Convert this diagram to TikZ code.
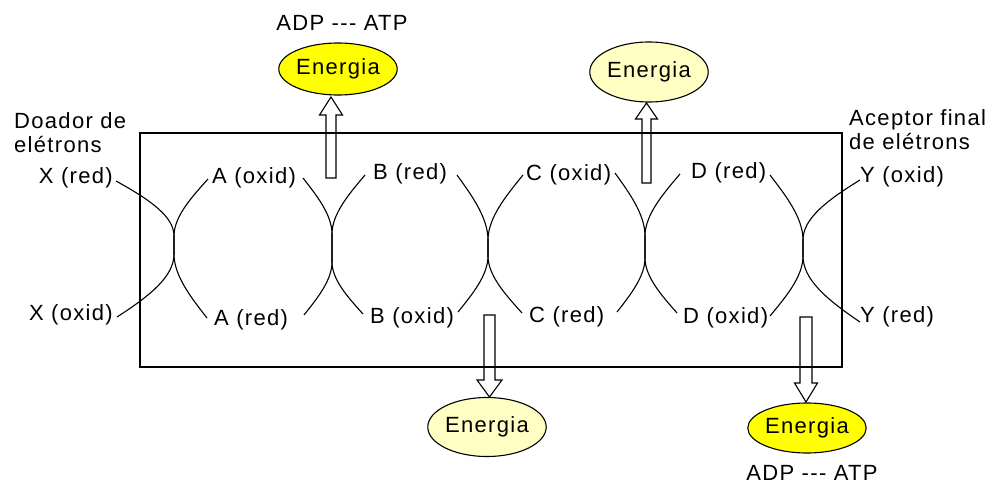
\documentclass[tikz,border=0pt]{standalone}
\usepackage{fontspec}
\newfontfamily\lab{Liberation Sans}[LetterSpace=6]
\usetikzlibrary{shapes.geometric}
\definecolor{ybright}{HTML}{FFFF00}
\definecolor{ypale}{HTML}{FFFFC4}
% one arc touching a crossing:
% #1 centre x, #2 top of vertical part, #3 bottom of vertical part,
% #4,#5 top end, #6,#7 bottom end, #8,#9 first control fractions (x, y)
\newcommand\crossarc[9]{%
  \draw[ln] (#4,#5) .. controls ({#4+#8*(#1-#4)},{#5+#9*(#2-#5)}) and (#1,{#2-0.35*(#2-#5)}) .. (#1,#2)
    -- (#1,#3) .. controls (#1,{#3+0.35*(#7-#3)}) and ({#6+#8*(#1-#6)},{#7-#9*(#7-#3)}) .. (#6,#7);}
% #1 centre x, #2 tail y, #3 head base y, #4 tip y, #5 shaft half width, #6 head half width
\newcommand\hollowarrow[6]{%
  \draw[ln,line join=miter] ({#1-#5},#2) -- ({#1-#5},#3) -- ({#1-#6},#3) -- (#1,#4) -- ({#1+#6},#3)
    -- ({#1+#5},#3) -- ({#1+#5},#2) -- cycle;}
\begin{document}
\begin{tikzpicture}[x=1pt,y=-1pt,
  txt/.style={font=\lab\fontsize{22}{25}\selectfont, inner sep=0pt},
  ln/.style={line width=1.1pt, black},
  en/.style={ellipse, draw, line width=1.1pt, inner sep=0pt, font=\lab\fontsize{22}{25}\selectfont}
]
\useasboundingbox (0,0) rectangle (994,484);

% frame
\draw[ln] (140,133) rectangle (842,367);

% side texts
\node[txt, anchor=west, align=left] (don) at (14,133) {Doador de\\[-1pt]elétrons};
\node[txt, anchor=west, align=left] (ace) at (849,130) {Aceptor final\\[-1pt]de elétrons};

% labels
\node[txt, anchor=east] (xr) at (113,178) {X (red)};
\node[txt, anchor=east] (xo) at (113,315) {X (oxid)};
\node[txt, anchor=west] (ao) at (212,178) {A (oxid)};
\node[txt, anchor=west] (ar) at (214,320) {A (red)};
\node[txt, anchor=west] (br) at (373,174) {B (red)};
\node[txt, anchor=west] (bo) at (370,318) {B (oxid)};
\node[txt, anchor=west] (co) at (526,175) {C (oxid)};
\node[txt, anchor=west] (cr) at (529,317) {C (red)};
\node[txt, anchor=west] (dr) at (691,173) {D (red)};
\node[txt, anchor=west] (do) at (683,318) {D (oxid)};
\node[txt, anchor=west] (yo) at (860,177) {Y (oxid)};
\node[txt, anchor=west] (yr) at (860,317) {Y (red)};

% crossing arcs
\crossarc{174}{236}{254}{116}{181}{117}{317}{0.6}{0.35}
\crossarc{174}{236}{254}{208}{179}{207}{318}{0.45}{0.3}
\crossarc{332}{234}{262}{303}{178}{304}{315}{0.45}{0.3}
\crossarc{332}{234}{262}{365}{175}{363}{314}{0.45}{0.3}
\crossarc{488}{240}{256}{457}{175}{458}{312}{0.45}{0.3}
\crossarc{488}{240}{256}{523}{175}{522}{313}{0.45}{0.3}
\crossarc{645}{236}{258}{615}{173}{617}{312}{0.45}{0.3}
\crossarc{645}{236}{258}{680}{174}{677}{313}{0.45}{0.3}
\crossarc{803}{240}{256}{770}{175}{770}{316}{0.45}{0.3}
\crossarc{803}{240}{256}{860}{180}{860}{322}{0.6}{0.35}

% energy ellipses
\node[en, fill=ybright, minimum width=105, minimum height=52] (e1) at (338,69) {Energia};
\node[en, fill=ypale, minimum width=106, minimum height=60] (e2) at (649,72) {Energia};
\node[en, fill=ypale, minimum width=108, minimum height=59] (e3) at (487,427) {Energia};
\node[en, fill=ybright, minimum width=104, minimum height=50] (e4) at (807,428) {Energia};

\node[txt] (atp1) at (342,23) {ADP --- ATP};
\node[txt] (atp2) at (812,473) {ADP --- ATP};

% hollow arrows
\hollowarrow{331}{178}{115}{97}{5}{11.5}
\hollowarrow{646.5}{183}{119}{103}{4.5}{11}
\hollowarrow{489.5}{315}{380}{397}{5.5}{12.5}
\hollowarrow{806}{317}{383}{402}{6}{11.5}
\end{tikzpicture}
\end{document}
